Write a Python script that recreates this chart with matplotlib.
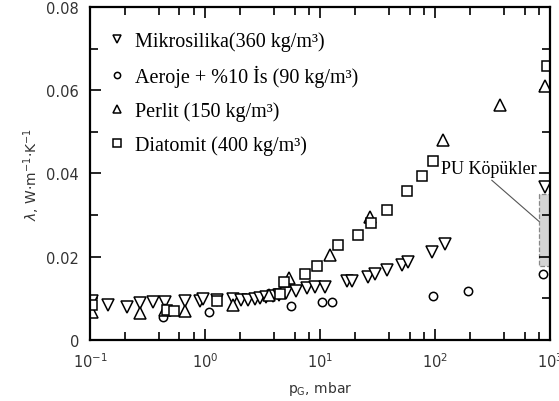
import numpy as np
import matplotlib.pyplot as plt
from matplotlib.ticker import FixedLocator, FixedFormatter, LogLocator, NullFormatter

# Mikrosilika (360 kg/m3) - down triangles
mik_p = [0.105, 0.143, 0.21, 0.27, 0.35, 0.45, 0.67, 0.9, 0.96, 1.27, 1.75,
         2.05, 2.35, 2.7, 3.0, 3.4, 3.9, 4.4, 5.1, 6.2, 7.7, 9.0, 11.0,
         17.0, 19.0, 26.0, 30.0, 38.0, 52.0, 58.0, 94.0, 122.0, 910.0]
mik_k = [0.0094, 0.0084, 0.0080, 0.0089, 0.0092, 0.0092, 0.0094, 0.0094,
         0.0099, 0.0097, 0.0099, 0.0096, 0.0096, 0.0099, 0.0101, 0.0104,
         0.0106, 0.0108, 0.0113, 0.0118, 0.0125, 0.0127, 0.0127, 0.0142,
         0.0142, 0.0152, 0.0159, 0.0167, 0.0179, 0.0187, 0.0212, 0.0231,
         0.0368]

# Aeroje + %10 Is (90 kg/m3) - circles
aer_p = [0.43, 1.08, 5.6, 10.3, 12.6, 96.0, 195.0, 860.0]
aer_k = [0.0055, 0.0067, 0.0082, 0.0092, 0.0092, 0.0106, 0.0118, 0.0159]

# Perlit (150 kg/m3) - up triangles
per_p = [0.105, 0.27, 0.45, 0.67, 1.75, 3.6, 5.4, 12.2, 27.0, 117.0, 370.0, 910.0]
per_k = [0.0068, 0.0065, 0.0072, 0.0070, 0.0084, 0.0108, 0.0149, 0.0203,
         0.0296, 0.0480, 0.0564, 0.0610]

# Diatomit (400 kg/m3) - squares
dia_p = [0.105, 0.47, 0.54, 1.27, 4.5, 4.9, 7.4, 9.4, 14.4, 21.5, 28.0,
         38.0, 57.0, 77.0, 96.0, 950.0]
dia_k = [0.0085, 0.0072, 0.0070, 0.0094, 0.0110, 0.0140, 0.0159, 0.0178,
         0.0227, 0.0251, 0.0280, 0.0311, 0.0357, 0.0393, 0.0429, 0.0658]

# PU foam band at 1000 mbar
pu_p = [800, 1000]
pu_range = [0.0178, 0.0350]

labels = ["Mikrosilika(360 kg/m³)", "Aeroje + %10 İs (90 kg/m³)",
          "Perlit (150 kg/m³)", "Diatomit (400 kg/m³)"]

fig = plt.figure(figsize=(5.59, 4.02), dpi=100)
ax = fig.add_axes([0.161, 0.152, 0.823, 0.828])

mk = dict(ls="", mfc="white", mec="black", mew=1.1)
ax.plot(mik_p, mik_k, marker="v", ms=8, label=labels[0], **mk)
ax.plot(aer_p, aer_k, marker="o", ms=6, label=labels[1], **mk)
ax.plot(per_p, per_k, marker="^", ms=8, label=labels[2], **mk)
ax.plot(dia_p, dia_k, marker="s", ms=7, label=labels[3], **mk)

# PU foam band
ax.fill_between(pu_p, pu_range[0], pu_range[1], facecolor="#d4d4d4",
                edgecolor="#888888", ls="--", lw=0.9, zorder=1)
ax.annotate("PU Köpükler", xy=(800, 0.0285), xytext=(112, 0.0411),
            fontsize=13, family="Liberation Serif", va="center", ha="left",
            arrowprops=dict(arrowstyle="-", color="#555555", lw=0.8,
                            shrinkA=0, shrinkB=0,
                            relpos=(0.5, 0.0)))

ax.set_xscale("log")
ax.set_xlim(0.1, 1000)
ax.set_ylim(0, 0.08)

ax.xaxis.set_major_locator(LogLocator(base=10))
ax.xaxis.set_minor_locator(LogLocator(base=10, subs=(2, 4, 6, 8)))
ax.xaxis.set_minor_formatter(NullFormatter())
yt = [0, 0.02, 0.04, 0.06, 0.08]
ax.yaxis.set_major_locator(FixedLocator(yt))
ax.yaxis.set_major_formatter(FixedFormatter(["0", "0.02", "0.04", "0.06", "0.08"]))
ax.yaxis.set_minor_locator(FixedLocator([0.01, 0.03, 0.05, 0.07]))

ax.tick_params(which="both", direction="in", top=True, right=True,
               labelsize=10.5, labelcolor="#333333", width=1.2)
ax.tick_params(which="major", length=8)
ax.tick_params(which="minor", length=6)
ax.tick_params(axis="x", pad=8)
ax.tick_params(axis="y", pad=8)
for s in ax.spines.values():
    s.set_linewidth(1.6)

ax.set_xlabel(r"p$_\mathrm{G}$, mbar", fontsize=10, color="#333333", labelpad=7)
ax.set_ylabel(r"$\lambda$, W$\cdot$m$^{-1}$$\cdot$K$^{-1}$", fontsize=10,
              color="#333333", labelpad=3)

ax.legend(loc="upper left", frameon=False,
          prop={"family": "Liberation Serif", "size": 14.5},
          handletextpad=0.3, labelspacing=0.7, borderaxespad=0.0,
          handlelength=1.2, markerscale=0.75, bbox_to_anchor=(0.015, 0.952))

fig.savefig("out.png", dpi=100)
